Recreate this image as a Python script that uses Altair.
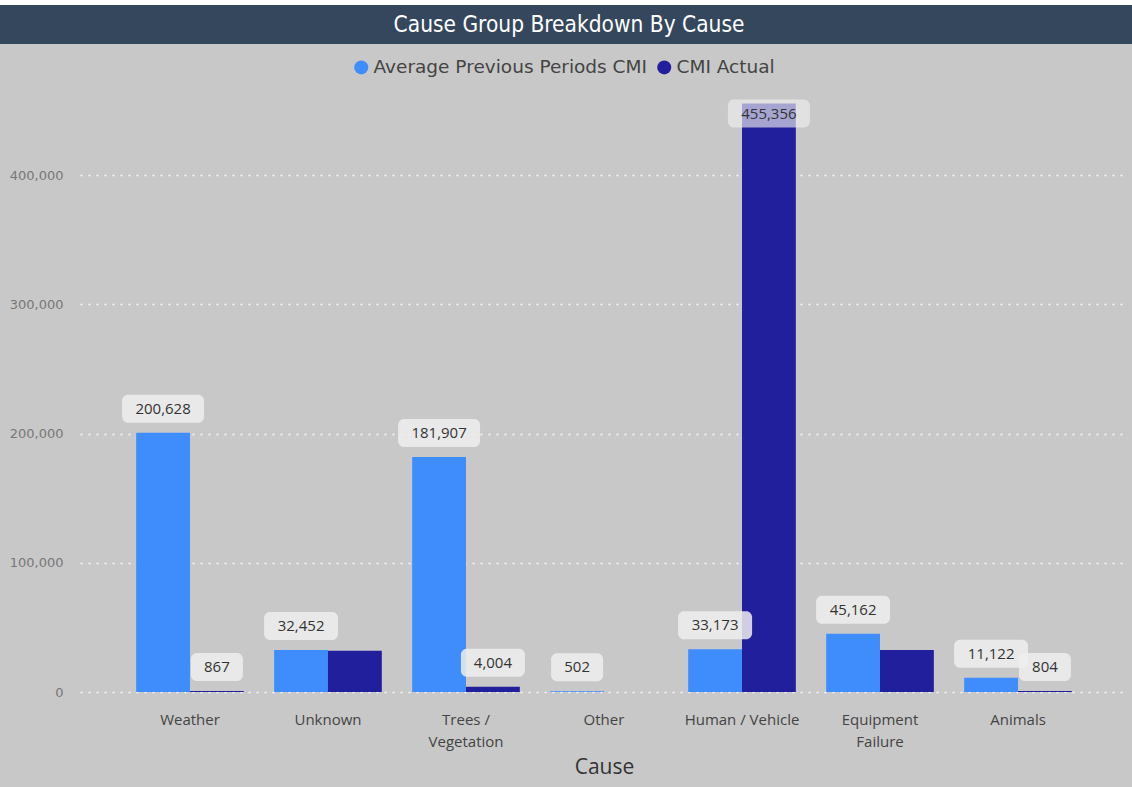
import altair as alt
import pandas as pd

# ---- data ----
title_text = "Cause Group Breakdown By Cause"
causes = ["Weather", "Unknown", "Trees / Vegetation", "Other",
          "Human / Vehicle", "Equipment Failure", "Animals"]
series_order = ["Average Previous Periods CMI", "CMI Actual"]
avg_prev = [200628, 32452, 181907, 502, 33173, 45162, 11122]
cmi_actual = [867, 32000, 4004, 0, 455356, 32500, 804]
avg_label_shown = [True, True, True, True, True, True, True]
act_label_shown = [True, False, True, False, True, False, True]
y_ticks = [0, 100000, 200000, 300000, 400000]
wrapped = {"Trees / Vegetation": ["Trees /", "Vegetation"],
           "Equipment Failure": ["Equipment", "Failure"]}

rows = []
for i, c in enumerate(causes):
    rows.append({"cause": c, "series": series_order[0], "value": avg_prev[i],
                 "show": avg_label_shown[i], "label": f"{avg_prev[i]:,}"})
    rows.append({"cause": c, "series": series_order[1], "value": cmi_actual[i],
                 "show": act_label_shown[i], "label": f"{cmi_actual[i]:,}"})
df = pd.DataFrame(rows)

LIGHT = "#3f8cfc"
DARK = "#211f9b"
BG = "#c8c8c8"
FONT = "Open Sans"
TITLE_FONT = "'DejaVu Sans Condensed', 'Liberation Sans Narrow', Roboto, sans-serif"


def box_path(w, h=28, r=6):
    a, b = w / 2, h / 2
    return (f"M{-a + r},{-b} L{a - r},{-b} A{r},{r} 0 0 1 {a},{-b + r} "
            f"L{a},{b - r} A{r},{r} 0 0 1 {a - r},{b} L{-a + r},{b} "
            f"A{r},{r} 0 0 1 {-a},{b - r} L{-a},{-b + r} A{r},{r} 0 0 1 {-a + r},{-b} Z")


box_domain = [3, 4, 5, 6, 7]
box_range = [box_path(w) for w in [52, 58, 64, 74, 82]]

label_expr = " : ".join(
    f"datum.label == '{k}' ? {v!r}" for k, v in wrapped.items()
) + " : datum.label"

x_enc = alt.X(
    "cause:N", sort=causes, title="Cause",
    scale=alt.Scale(paddingInner=0.22, paddingOuter=0.407),
    axis=alt.Axis(labelAngle=0, domain=False, ticks=False, labelFontSize=15,
                  labelColor="#444", labelPadding=20, labelLineHeight=22,
                  labelExpr=label_expr, titleFontSize=21, titleColor="#333",
                  titleFontWeight="normal", titlePadding=7, labelFont=FONT,
                  titleFont=FONT),
)
xoff_enc = alt.XOffset("series:N", sort=series_order,
                       scale=alt.Scale(domain=series_order, paddingInner=0, paddingOuter=0))
y_enc = alt.Y(
    "value:Q", title=None,
    scale=alt.Scale(domain=[0, 462000], nice=False),
    axis=alt.Axis(values=y_ticks, labelExpr="format(datum.value, ',')",
                  domain=False, ticks=False,
                  labelFontSize=13, labelColor="#777", labelPadding=17,
                  labelFont="DejaVu Sans", grid=True, gridColor="white",
                  gridDash=[2, 6], gridWidth=1.5, gridOpacity=0.9),
)

base = alt.Chart(df).encode(x=x_enc, xOffset=xoff_enc, y=y_enc)

bars = base.mark_bar().encode(
    color=alt.Color(
        "series:N", sort=series_order,
        scale=alt.Scale(domain=series_order, range=[LIGHT, DARK]),
        legend=alt.Legend(
            title=None, orient="none", legendX=272, legendY=-37,
            direction="horizontal", symbolType="circle", symbolSize=196,
            symbolStrokeWidth=0, labelFontSize=18.5, labelColor="#444",
            labelFont="DejaVu Sans", labelOffset=3, columnPadding=8, padding=0,
            labelLimit=500,
        ),
    )
)

labels = base.transform_filter("datum.show").transform_calculate(
    blen="length(datum.label)",
    clamp="datum.value > 440000 ? 1 : 0",
)

normal = labels.transform_filter("datum.clamp == 0")
clamped = labels.transform_filter("datum.clamp == 1")

shape_enc = alt.Shape("blen:N", scale=alt.Scale(domain=box_domain, range=box_range),
                      legend=None)

box_n = normal.mark_point(size=4, filled=True, fill="#eeeeee", fillOpacity=0.85,
                          strokeWidth=0, yOffset=-24).encode(shape=shape_enc)
box_c = clamped.mark_point(size=4, filled=True, fill="#eeeeee", fillOpacity=0.65,
                           strokeWidth=0, yOffset=10).encode(shape=shape_enc)
txt_n = normal.mark_text(fontSize=15, color="#333", font=FONT, baseline="middle",
                         dy=-24).encode(text="label:N")
txt_c = clamped.mark_text(fontSize=15, color="#333", font=FONT, baseline="middle",
                          dy=10).encode(text="label:N")

title_df = pd.DataFrame({"t": [title_text]})
title_bar = alt.Chart(title_df).mark_rect(color="#34475c").encode(
    x=alt.value(-80), x2=alt.value(1052), y=alt.value(-90), y2=alt.value(-51))
top_strip = alt.Chart(title_df).mark_rect(color="white").encode(
    x=alt.value(-80), x2=alt.value(1052), y=alt.value(-95), y2=alt.value(-90))
title_txt = alt.Chart(title_df).mark_text(
    color="white", fontSize=22.5, font=TITLE_FONT, baseline="middle",
    align="center").encode(x=alt.value(489), y=alt.value(-70), text="t:N")

chart = alt.layer(
    top_strip, title_bar, title_txt, bars, box_n, txt_n, box_c, txt_c
).properties(
    width=1048, height=597,
    autosize=alt.AutoSizeParams(type="none"),
    padding={"left": 80, "top": 95, "right": 4, "bottom": 95},
    background=BG,
).configure_view(stroke=None)

chart.save("out.html", embed_options={"renderer": "svg", "actions": False})
